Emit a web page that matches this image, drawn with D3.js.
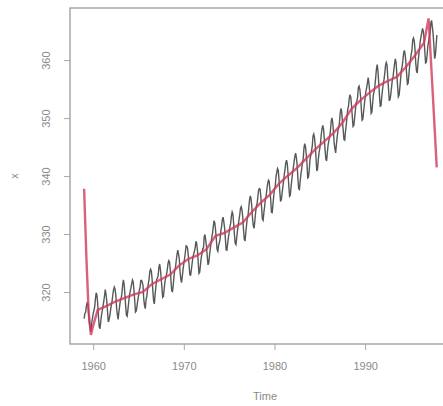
<!DOCTYPE html>
<html>
<head>
<meta charset="utf-8">
<script src="https://cdn.jsdelivr.net/npm/d3@7"></script>
<style>
  body { margin: 0; background: #fff; }
  svg { display: block; }
  text { font-family: "Liberation Sans", Arial, sans-serif; fill: #8a8a8a; }
</style>
</head>
<body>
<script>
// monthly co2 readings, one row per year starting 1959
const startYear = 1959;
const co2 = [
  [315.42, 316.31, 316.50, 317.56, 318.13, 318.00, 316.39, 314.65, 313.68, 313.18, 314.66, 315.43],
  [316.27, 316.81, 317.42, 318.87, 319.87, 319.43, 318.01, 315.74, 314.00, 313.68, 314.84, 316.03],
  [316.73, 317.54, 318.38, 319.31, 320.42, 319.61, 318.42, 316.63, 314.83, 315.16, 315.94, 316.85],
  [317.78, 318.40, 319.53, 320.42, 320.85, 320.45, 319.45, 317.25, 316.11, 315.27, 316.53, 317.53],
  [318.58, 318.92, 319.70, 321.22, 322.08, 321.31, 319.58, 317.61, 316.05, 315.83, 316.91, 318.20],
  [319.41, 320.07, 320.74, 321.40, 322.06, 321.73, 320.27, 318.54, 316.54, 316.71, 317.53, 318.55],
  [319.27, 320.28, 320.73, 321.97, 322.00, 321.71, 321.05, 318.71, 317.66, 317.14, 318.70, 319.25],
  [320.46, 321.43, 322.23, 323.54, 323.91, 323.59, 322.24, 320.20, 318.48, 317.94, 319.63, 320.87],
  [322.17, 322.34, 322.88, 324.25, 324.83, 323.93, 322.38, 320.76, 319.10, 319.24, 320.56, 321.80],
  [322.40, 322.99, 323.73, 324.86, 325.40, 325.20, 323.98, 321.95, 320.18, 320.09, 321.16, 322.74],
  [323.83, 324.26, 325.47, 326.50, 327.21, 326.54, 325.72, 323.50, 322.22, 321.62, 322.69, 323.95],
  [324.89, 325.82, 326.77, 327.97, 327.91, 327.50, 326.18, 324.53, 322.93, 322.90, 323.85, 324.96],
  [326.01, 326.51, 327.01, 327.62, 328.76, 328.40, 327.20, 325.27, 323.20, 323.40, 324.63, 325.85],
  [326.60, 327.47, 327.58, 329.56, 329.90, 328.92, 327.88, 326.16, 324.68, 325.04, 326.34, 327.39],
  [328.37, 329.40, 330.14, 331.33, 332.31, 331.90, 330.70, 329.15, 327.35, 327.02, 327.99, 328.48],
  [329.18, 330.55, 331.32, 332.48, 332.92, 332.08, 331.01, 329.23, 327.27, 327.21, 328.29, 329.41],
  [330.23, 331.25, 331.87, 333.14, 333.80, 333.43, 331.73, 329.90, 328.40, 328.17, 329.32, 330.59],
  [331.58, 332.39, 333.33, 334.41, 334.71, 334.17, 332.89, 330.77, 329.14, 328.78, 330.14, 331.52],
  [332.75, 333.24, 334.53, 335.90, 336.57, 336.10, 334.76, 332.59, 331.42, 330.98, 332.24, 333.68],
  [334.80, 335.22, 336.47, 337.59, 337.84, 337.72, 336.37, 334.51, 332.60, 332.38, 333.75, 334.78],
  [336.05, 336.59, 337.79, 338.71, 339.30, 339.12, 337.56, 335.92, 333.75, 333.70, 335.12, 336.56],
  [337.84, 338.19, 339.91, 340.60, 341.29, 341.00, 339.39, 337.43, 335.72, 335.84, 336.93, 338.04],
  [339.06, 340.30, 341.21, 342.33, 342.74, 342.08, 340.32, 338.26, 336.52, 336.68, 338.19, 339.44],
  [340.57, 341.44, 342.53, 343.39, 343.96, 343.18, 341.88, 339.65, 337.81, 337.69, 339.09, 340.32],
  [341.20, 342.35, 342.93, 344.77, 345.58, 345.14, 343.81, 342.21, 339.69, 339.82, 340.98, 342.82],
  [343.52, 344.33, 345.11, 346.88, 347.25, 346.62, 345.22, 343.11, 340.90, 341.18, 342.80, 344.04],
  [344.79, 345.82, 347.25, 348.17, 348.74, 348.07, 346.38, 344.51, 342.92, 342.62, 344.06, 345.38],
  [346.11, 346.78, 347.68, 349.37, 350.03, 349.37, 347.76, 345.73, 344.68, 343.99, 345.48, 346.72],
  [347.84, 348.29, 349.23, 350.80, 351.66, 351.07, 349.33, 347.92, 346.27, 346.18, 347.64, 348.78],
  [350.25, 351.54, 352.05, 353.41, 354.04, 353.62, 352.22, 350.27, 348.55, 348.72, 349.91, 351.18],
  [352.60, 352.92, 353.53, 355.26, 355.52, 354.97, 353.75, 351.52, 349.64, 349.83, 351.14, 352.37],
  [353.50, 354.55, 355.23, 356.04, 357.00, 356.07, 354.67, 352.76, 350.82, 351.04, 352.69, 354.07],
  [354.59, 355.63, 357.03, 358.48, 359.22, 358.12, 356.06, 353.92, 352.05, 352.11, 353.64, 354.89],
  [355.88, 356.63, 357.72, 359.07, 359.58, 359.17, 356.94, 354.92, 352.94, 353.23, 354.09, 355.33],
  [356.63, 357.10, 358.32, 359.41, 360.23, 359.55, 357.53, 355.48, 353.67, 353.95, 355.30, 356.78],
  [358.34, 358.89, 359.95, 361.25, 361.67, 360.94, 359.55, 357.49, 355.84, 356.00, 357.59, 359.05],
  [359.98, 361.03, 361.66, 363.48, 363.82, 363.30, 361.94, 359.50, 358.11, 357.80, 359.61, 360.74],
  [362.09, 363.29, 364.06, 364.76, 365.45, 365.01, 363.70, 361.54, 359.51, 359.65, 360.80, 362.38],
  [363.23, 364.06, 364.61, 366.40, 366.84, 365.68, 364.52, 362.57, 360.24, 360.83, 362.49, 364.34]
];

// smoothed (red) line
const smoothTime = [1959.0, 1959.25, 1959.5, 1959.75, 1960.0, 1960.5, 1961.5, 1962.5, 1963.5, 1964.5,
  1965.5, 1966.5, 1967.5, 1968.5, 1969.5, 1970.5, 1971.5, 1972.5, 1973.5, 1974.5, 1975.5,
  1976.5, 1977.5, 1978.5, 1979.5, 1980.5, 1981.5, 1982.5, 1983.5, 1984.5, 1985.5, 1986.5,
  1987.5, 1988.5, 1989.5, 1990.5, 1991.5, 1992.5, 1993.5, 1994.5, 1995.5, 1996.5, 1997.0,
  1997.4, 1997.9];
const smoothValue = [337.8, 326.0, 316.5, 312.6, 314.2, 316.9, 317.6, 318.4, 319.0, 319.6,
  320.0, 321.4, 322.2, 323.0, 324.6, 325.7, 326.3, 327.4, 329.7, 330.2, 331.1,
  332.0, 333.8, 335.4, 336.8, 338.7, 340.1, 341.4, 343.0, 344.6, 346.0, 347.4,
  349.2, 351.6, 353.1, 354.4, 355.6, 356.4, 357.1, 358.8, 360.8, 363.0, 367.2,
  356.0, 341.5];

const xTicks = [1960, 1970, 1980, 1990];
const yTicks = [320, 330, 340, 350, 360];

const w = 443, h = 406;
const plotLeft = 70, plotRight = 451, plotTop = 8, plotBottom = 344;

const series = [];
co2.forEach((row, i) => row.forEach((v, m) => series.push([startYear + i + m / 12, v])));
const smooth = smoothTime.map((t, i) => [t, smoothValue[i]]);

// R style 4% padding around the data range
const tMin = startYear, tMax = startYear + co2.length - 1 / 12;
const vMin = d3.min(series, d => d[1]), vMax = d3.max(series, d => d[1]);
const tPad = (tMax - tMin) * 0.04, vPad = (vMax - vMin) * 0.04;

const x = d3.scaleLinear().domain([tMin - tPad, tMax + tPad]).range([plotLeft, plotRight]);
const y = d3.scaleLinear().domain([vMin - vPad, vMax + vPad]).range([plotBottom, plotTop]);

const svg = d3.select('body').append('svg').attr('width', w).attr('height', h);

const line = d3.line().x(d => x(d[0])).y(d => y(d[1]));

svg.append('path')
  .datum(series)
  .attr('d', line)
  .attr('fill', 'none')
  .attr('stroke', '#555a58')
  .attr('stroke-width', 1.4);

svg.append('path')
  .datum(smooth)
  .attr('d', line)
  .attr('fill', 'none')
  .attr('stroke', '#d2385a')
  .attr('stroke-width', 2.4)
  .attr('stroke-opacity', 0.8);

// box
svg.append('rect')
  .attr('x', plotLeft).attr('y', plotTop)
  .attr('width', plotRight - plotLeft).attr('height', plotBottom - plotTop)
  .attr('fill', 'none')
  .attr('stroke', '#a8a8a8')
  .attr('stroke-width', 1.5);

const xAxis = svg.append('g')
  .attr('transform', `translate(0,${plotBottom})`)
  .call(d3.axisBottom(x).tickValues(xTicks).tickFormat(d3.format('d')).tickSize(6).tickPadding(12));
const yAxis = svg.append('g')
  .attr('transform', `translate(${plotLeft},0)`)
  .call(d3.axisLeft(y).tickValues(yTicks).tickSize(6).tickPadding(10));

[xAxis, yAxis].forEach(g => {
  g.select('.domain').remove();
  g.selectAll('line').attr('stroke', '#a8a8a8');
  g.selectAll('text').attr('fill', '#8a8a8a').style('font-size', '11px');
});

// R keeps y tick labels parallel to the axis
yAxis.selectAll('.tick text')
  .attr('text-anchor', 'middle')
  .attr('x', 0).attr('dy', 0)
  .attr('transform', 'translate(-20,0) rotate(-90)');

svg.append('text')
  .attr('x', 265).attr('y', 400)
  .attr('text-anchor', 'middle')
  .style('font-size', '11px')
  .text('Time');

svg.append('text')
  .attr('transform', `translate(18,${(plotTop + plotBottom) / 2}) rotate(-90)`)
  .attr('text-anchor', 'middle')
  .style('font-size', '11px')
  .text('x');
</script>
</body>
</html>
